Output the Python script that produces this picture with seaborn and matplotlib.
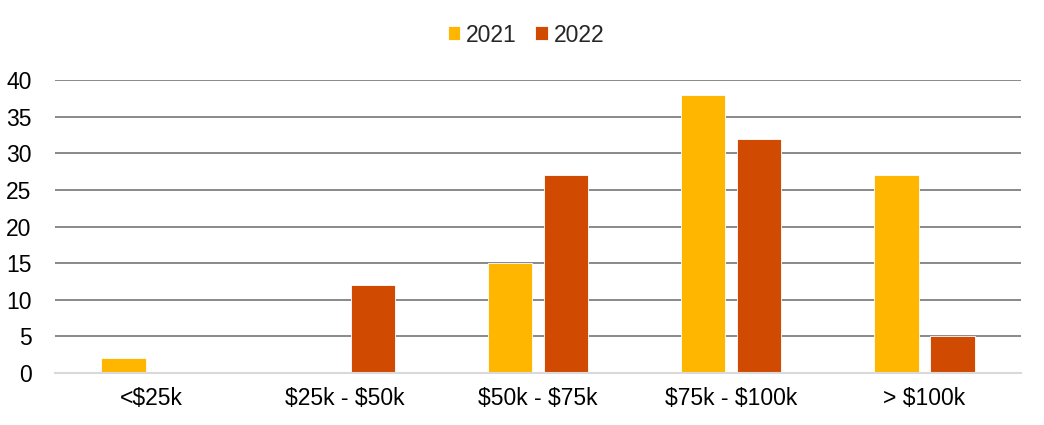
import pandas as pd
import matplotlib
matplotlib.use('Agg')
from matplotlib import pyplot as plt
import seaborn as sns

# Datos del gráfico
categories = ['<$25k', '$25k - $50k', '$50k - $75k', '$75k - $100k', '> $100k']
values_2021 = [2, 0, 15, 38, 27]
values_2022 = [0, 12, 27, 32, 5]
years = ['2021', '2022']
colors = ['#FFB600', '#D04A02']
y_ticks = [0, 5, 10, 15, 20, 25, 30, 35, 40]

df = pd.DataFrame({
    'Rango': categories * 2,
    'Año': [years[0]] * len(categories) + [years[1]] * len(categories),
    'Valor': values_2021 + values_2022,
})

sns.set_style('white')
plt.rcParams['font.family'] = ['Liberation Sans', 'DejaVu Sans']
plt.rcParams['text.parse_math'] = False  # los "$" son texto literal

fig = plt.figure(figsize=(10.44, 4.25), dpi=100)
ax = fig.add_axes([55 / 1044, 52 / 425, (1021 - 55) / 1044, (373 - 80) / 425])

sns.barplot(data=df, x='Rango', y='Valor', hue='Año', palette=colors,
            width=0.58, gap=0.21, edgecolor='#ffffff', linewidth=0.6,
            saturation=1, ax=ax, zorder=3)

ax.set_ylim(0, 40)
ax.set_xlim(-0.5, len(categories) - 0.5)
ax.set_yticks(y_ticks)
ax.yaxis.grid(True, color='#808080', linewidth=1.3, zorder=0)
ax.set_axisbelow(True)
ax.set_xlabel('')
ax.set_ylabel('')
for s in ['top', 'right', 'left']:
    ax.spines[s].set_visible(False)
ax.spines['bottom'].set_color('#D9D9D9')
ax.spines['bottom'].set_linewidth(1.5)
ax.spines['bottom'].set_zorder(4)
ax.tick_params(axis='both', length=0, labelsize=16.5, colors='black')
ax.tick_params(axis='y', pad=17)
ax.tick_params(axis='x', pad=10)

leg = ax.legend(loc='center', bbox_to_anchor=(0.5 - 12 / 966, 1 + 45 / 293), ncol=2,
                frameon=False, fontsize=16.5, handlelength=0.55, handleheight=0.55,
                handletextpad=0.25, columnspacing=0.8)

fig.savefig('out.png', dpi=100)
